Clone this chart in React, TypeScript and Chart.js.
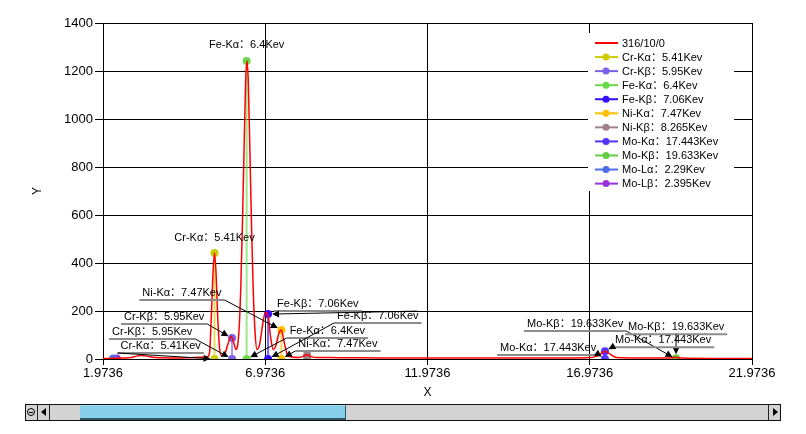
import React, { useEffect, useRef } from "react";
import { Chart, registerables } from "chart.js";

Chart.register(...registerables);

// ---------------- data ----------------
const spectrumName = "316/10/0";
const spectrumKev = [
  1.97, 2.3, 2.6, 2.85, 3.0, 3.15, 3.3, 3.5, 3.8, 4.2, 4.6, 5.0, 5.2, 5.26, 5.31, 5.36, 5.41, 5.46,
  5.51, 5.56, 5.62, 5.72, 5.82, 5.92, 6.0, 6.07, 6.12, 6.17, 6.22, 6.27, 6.32, 6.37, 6.41, 6.45, 6.5,
  6.55, 6.6, 6.66, 6.72, 6.8, 6.9, 6.98, 7.06, 7.14, 7.22, 7.3, 7.4, 7.47, 7.55, 7.65, 7.8, 8.0, 8.15,
  8.26, 8.38, 8.6, 9.0, 9.5, 10, 11, 12, 13, 14, 15, 16, 16.9, 17.2, 17.35, 17.45, 17.6, 17.8, 18.5,
  19.4, 19.6, 19.8, 21, 21.97,
];
const spectrumCounts = [
  2, 3, 4, 6, 12, 15, 13, 7, 5, 4, 5, 7, 10, 30, 172, 350, 442, 350,
  172, 53, 15, 20, 60, 95, 70, 40, 55, 130, 300, 560, 870, 1160, 1242, 1160, 870,
  560, 300, 110, 40, 60, 150, 195, 180, 90, 40, 55, 110, 121, 75, 20, 8, 6, 12,
  18, 10, 6, 6, 5, 5, 4, 4, 4, 4, 4, 4, 5, 12, 25, 32, 20, 6, 4,
  4, 7, 4, 2, 2,
];

const elementNames = ["Cr-Kα", "Cr-Kβ", "Fe-Kα", "Fe-Kβ", "Ni-Kα", "Ni-Kβ", "Mo-Kα", "Mo-Kβ", "Mo-Lα", "Mo-Lβ"];
const elementKev = [5.41, 5.95, 6.4, 7.06, 7.47, 8.265, 17.443, 19.633, 2.29, 2.395];
const elementPeak = [442, 87, 1242, 187, 121, 18, 32, 3, 2, 2];

const xTickValues = [1.9736, 6.9736, 11.9736, 16.9736, 21.9736];
const xTickLabels = ["1.9736", "6.9736", "11.9736", "16.9736", "21.9736"];
const yTickValues = [0, 200, 400, 600, 800, 1000, 1200, 1400];

// ---------------- styles / layout ----------------
const spectrumColor = "#FF0000";
const elementColors = [
  "#CCCC00", "#7B60E8", "#6CD94A", "#3311FF", "#FFBF00", "#A08088",
  "#5533FF", "#66CC44", "#4F6BE8", "#9933DD",
];
const FONT = "'Liberation Sans', 'Noto Sans CJK SC', sans-serif";

// labels centred above a peak
const topLabels = [
  { s: 2, dy: -16 },
  { s: 0, dy: -15 },
];
// underlined callouts: dx = text left - anchor x, dy = underline y - anchor y
const callouts: { s: number; at: "peak" | "base"; dx: number; dy: number; from: "L" | "R" | "V" | number }[] = [
  { s: 0, at: "base", dx: -94, dy: -6, from: "L" },
  { s: 1, at: "base", dx: -120, dy: -20, from: "R" },
  { s: 1, at: "peak", dx: -108, dy: -14, from: "R" },
  { s: 4, at: "peak", dx: -139, dy: -30, from: "R" },
  { s: 2, at: "base", dx: 43, dy: -21, from: "L" },
  { s: 3, at: "base", dx: 69, dy: -36, from: "L" },
  { s: 3, at: "peak", dx: 9, dy: -3, from: 140 },
  { s: 4, at: "base", dx: 17, dy: -8, from: "L" },
  { s: 6, at: "base", dx: -105, dy: -4, from: "R" },
  { s: 7, at: "base", dx: -149, dy: -28, from: "R" },
  { s: 7, at: "peak", dx: -48, dy: -24, from: "V" },
  { s: 6, at: "peak", dx: 10, dy: -4, from: "L" },
];

const labelText = (i: number) => `${elementNames[i]}：${elementKev[i]}Kev`;

function withAlpha(hex: string, a: number) {
  const n = parseInt(hex.slice(1), 16);
  return `rgba(${(n >> 16) & 255},${(n >> 8) & 255},${n & 255},${a})`;
}

const annotationPlugin = {
  id: "peakAnnotations",
  afterDatasetsDraw(chart: any) {
    const { ctx, scales } = chart;
    const xs = scales.x;
    const ys = scales.y;
    ctx.save();
    ctx.font = `11px ${FONT}`;
    ctx.fillStyle = "#000";
    ctx.textBaseline = "middle";

    topLabels.forEach((t) => {
      const x = xs.getPixelForValue(elementKev[t.s]);
      const y = ys.getPixelForValue(elementPeak[t.s]);
      ctx.textAlign = "center";
      ctx.fillText(labelText(t.s), x, y + t.dy);
    });

    ctx.textAlign = "left";
    callouts.forEach((c) => {
      const ax = xs.getPixelForValue(elementKev[c.s]);
      const ay = ys.getPixelForValue(c.at === "peak" ? elementPeak[c.s] : 0);
      const txt = labelText(c.s);
      const w = ctx.measureText(txt).width;
      const tl = ax + c.dx;
      const uy = ay + c.dy;
      const u0 = tl - 3;
      const u1 = tl + w + 3;
      ctx.strokeStyle = "#8c8c8c";
      ctx.lineWidth = 2;
      ctx.beginPath();
      ctx.moveTo(u0, uy);
      ctx.lineTo(u1, uy);
      ctx.stroke();
      ctx.fillStyle = "#000";
      ctx.fillText(txt, tl, uy - 7);
      let sx: number;
      if (c.from === "L") sx = u0;
      else if (c.from === "R") sx = u1;
      else if (c.from === "V") sx = ax;
      else sx = tl + c.from;
      const sy = uy;
      const ddx = ax - sx;
      const ddy = ay - sy;
      const len = Math.hypot(ddx, ddy) || 1;
      const ux = ddx / len;
      const uyy = ddy / len;
      const tipX = ax - ux * 4;
      const tipY = ay - uyy * 4;
      ctx.strokeStyle = "#000";
      ctx.lineWidth = 1;
      ctx.beginPath();
      ctx.moveTo(sx, sy);
      ctx.lineTo(tipX - ux * 5, tipY - uyy * 5);
      ctx.stroke();
      const hl = 7;
      const hw = 3.5;
      const bx = tipX - ux * hl;
      const by = tipY - uyy * hl;
      ctx.fillStyle = "#000";
      ctx.beginPath();
      ctx.moveTo(tipX, tipY);
      ctx.lineTo(bx - uyy * hw, by + ux * hw);
      ctx.lineTo(bx + uyy * hw, by - ux * hw);
      ctx.closePath();
      ctx.fill();
    });
    ctx.restore();
  },
};

const legendPlugin = {
  id: "boxLegend",
  afterDraw(chart: any) {
    const { ctx, chartArea } = chart;
    const left = chartArea.right - 164;
    const top = chartArea.top + 10;
    ctx.save();
    ctx.fillStyle = "#fff";
    ctx.fillRect(left, top, 146, 158);
    ctx.font = `11px ${FONT}`;
    ctx.textBaseline = "middle";
    ctx.textAlign = "left";
    chart.data.datasets.forEach((ds: any, i: number) => {
      const y = top + 10 + i * 14.06;
      const col = ds.legendColor;
      ctx.strokeStyle = col;
      ctx.lineWidth = 2;
      ctx.beginPath();
      ctx.moveTo(left + 7, y);
      ctx.lineTo(left + 30, y);
      ctx.stroke();
      if (i > 0) {
        ctx.fillStyle = col;
        ctx.beginPath();
        ctx.arc(left + 18, y, 3.5, 0, Math.PI * 2);
        ctx.fill();
      }
      ctx.fillStyle = "#000";
      ctx.fillText(ds.label, left + 34, y + 0.5);
    });
    ctx.restore();
  },
};

function Scrollbar() {
  const btn: React.CSSProperties = {
    position: "absolute",
    top: 0,
    width: 12,
    height: 15,
    background: "#D3D3D3",
    boxSizing: "border-box",
    borderRight: "1px solid #222",
  };
  return (
    <div
      style={{
        position: "absolute",
        left: 25,
        top: 404,
        width: 756,
        height: 17,
        boxSizing: "border-box",
        border: "1px solid #111",
        background: "#D3D3D3",
      }}
    >
      <div style={{ ...btn, left: 0 }}>
        <div
          style={{
            position: "absolute",
            left: 1,
            top: 3,
            width: 8,
            height: 8,
            borderRadius: "50%",
            border: "1px solid #000",
            boxSizing: "border-box",
          }}
        />
        <div style={{ position: "absolute", left: 3, top: 7, width: 4, height: 1, background: "#000" }} />
      </div>
      <div style={{ ...btn, left: 12 }}>
        <div
          style={{
            position: "absolute",
            left: 3,
            top: 3,
            width: 0,
            height: 0,
            borderTop: "4px solid transparent",
            borderBottom: "4px solid transparent",
            borderRight: "5px solid #000",
          }}
        />
      </div>
      <div
        style={{
          position: "absolute",
          left: 54,
          top: 0,
          width: 266,
          height: 15,
          background: "#87CEEB",
          boxSizing: "border-box",
          borderTop: "1px solid #a8dcf0",
          borderBottom: "2px solid #2d5566",
          borderRight: "1px solid #2d5566",
        }}
      />
      <div style={{ ...btn, right: 0, borderRight: "none", borderLeft: "1px solid #222" }}>
        <div
          style={{
            position: "absolute",
            left: 4,
            top: 3,
            width: 0,
            height: 0,
            borderTop: "4px solid transparent",
            borderBottom: "4px solid transparent",
            borderLeft: "5px solid #000",
          }}
        />
      </div>
    </div>
  );
}

export default function App() {
  const ref = useRef<HTMLCanvasElement>(null);
  useEffect(() => {
    const spectrum = spectrumKev.map((x, i) => ({ x, y: spectrumCounts[i] }));
    const datasets: any[] = [
      {
        label: spectrumName,
        data: spectrum,
        borderColor: spectrumColor,
        legendColor: spectrumColor,
        borderWidth: 1.5,
        pointRadius: 0,
        cubicInterpolationMode: "monotone",
        order: 0,
      },
      ...elementNames.map((name, i) => ({
        label: `${name}：${elementKev[i]}Kev`,
        data: [
          { x: elementKev[i], y: 0 },
          { x: elementKev[i], y: elementPeak[i] },
        ],
        borderColor: withAlpha(elementColors[i], 0.65),
        legendColor: elementColors[i],
        borderWidth: 2,
        pointRadius: 4,
        pointBackgroundColor: elementColors[i],
        pointBorderWidth: 0,
        order: 1,
      })),
    ];
    const chart = new Chart(ref.current as HTMLCanvasElement, {
      type: "line",
      data: { datasets },
      options: {
        animation: false,
        responsive: false,
        devicePixelRatio: 1,
        layout: { padding: { left: 0, right: 54, top: 23, bottom: 31 } },
        plugins: { legend: { display: false }, tooltip: { enabled: false } },
        scales: {
          x: {
            type: "linear",
            min: xTickValues[0],
            max: xTickValues[xTickValues.length - 1],
            afterBuildTicks: (s: any) => {
              s.ticks = xTickValues.map((v) => ({ value: v }));
            },
            afterFit: (s: any) => {
              s.height = 44;
            },
            ticks: {
              callback: (_v: any, i: number) => xTickLabels[i],
              color: "#000",
              font: { family: FONT, size: 13 },
              padding: 1,
              maxRotation: 0,
              autoSkip: false,
            },
            grid: { color: "#000", lineWidth: 1, tickLength: 6 },
            border: { color: "#000", width: 1 },
            title: {
              display: true,
              text: "X",
              color: "#000",
              font: { family: FONT, size: 12 },
              padding: { top: 2, bottom: 3 },
            },
          },
          y: {
            type: "linear",
            min: 0,
            max: 1400,
            afterBuildTicks: (s: any) => {
              s.ticks = yTickValues.map((v) => ({ value: v }));
            },
            afterFit: (s: any) => {
              s.width = 103;
            },
            ticks: {
              callback: (v: any) => String(v),
              color: "#000",
              font: { family: FONT, size: 13 },
              padding: 2,
            },
            grid: { color: "#000", lineWidth: 1, tickLength: 8 },
            border: { color: "#000", width: 1 },
            title: {
              display: true,
              text: "Y",
              color: "#000",
              font: { family: FONT, size: 12 },
              padding: { top: 30, bottom: 0 },
            },
          },
        },
      } as any,
      plugins: [annotationPlugin, legendPlugin],
    });
    return () => chart.destroy();
  }, []);
  return (
    <div style={{ position: "fixed", left: 0, top: 0, width: 806, height: 434, background: "#fff" }}>
      <canvas
        ref={ref}
        width={806}
        height={434}
        style={{ position: "absolute", left: 0, top: 0, width: 806, height: 434 }}
      />
      <Scrollbar />
    </div>
  );
}
